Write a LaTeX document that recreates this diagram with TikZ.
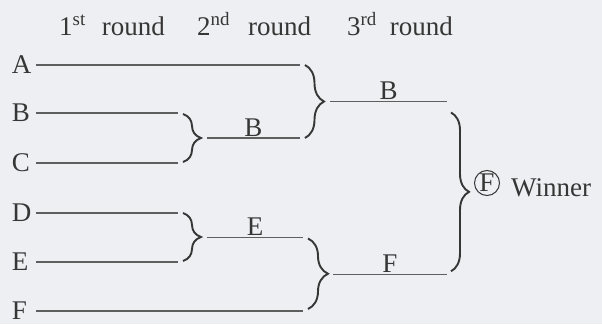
\documentclass[tikz,border=0pt]{standalone}
\usepackage{fontspec}
\setmainfont{Liberation Serif}
\usetikzlibrary{decorations.pathreplacing, positioning, calc}
\definecolor{paper}{HTML}{EEEFF2}
\definecolor{ink}{HTML}{363636}

\begin{document}
\begin{tikzpicture}[x=1pt, y=-1pt,
    every node/.style={text=ink, inner sep=1pt, font=\fontsize{27}{31}\selectfont},
    player/.style={inner sep=0pt, text width=20pt, align=left, text height=16pt, text depth=0pt},
    slot/.style={draw=ink!80, line width=1.3pt},
    join/.style={draw=ink, line width=1.9pt, decorate, decoration={brace, amplitude=#1}},
    join/.default=18pt]
    \fill[paper] (0,0) rectangle (602,324);
    \useasboundingbox (0,0) rectangle (602,324);

    % round titles
    \node[anchor=base west, inner sep=0pt] (r1) at (59,35) {1\textsuperscript{st}\hspace{16pt}round};
    \node[anchor=base west, inner sep=0pt] (r2) at (197,35) {2\textsuperscript{nd}\hspace{18pt}round};
    \node[anchor=base west, inner sep=0pt] (r3) at (347,35) {3\textsuperscript{rd}\hspace{13pt}round};

    % first round
    \node[player] (A) at (22,65) {A};
    \node[player] (B) at (22,113) {B};
    \node[player] (C) at (22,163) {C};
    \node[player] (D) at (22,213) {D};
    \node[player] (E) at (22,262) {E};
    \node[player] (F) at (22,311) {F};
    \coordinate (aR) at (300,65);
    \coordinate (bR) at (178,113);
    \coordinate (cR) at (178,163);
    \coordinate (dR) at (178,213);
    \coordinate (eR) at (178,262);
    \coordinate (fR) at (303,311);
    \foreach \p/\q in {A/aR, B/bR, C/cR, D/dR, E/eR, F/fR}
        \draw[slot, shorten <=4pt] (\p.east) -- (\q);

    % second round
    \draw[join] ($(bR)+(5,1)$) -- ($(cR)+(5,-1)$);
    \draw[slot] ($(bR)!.5!(cR)+(29,0)$) -- ++(93,0) coordinate (b2R)
        node[midway, above] (wB2) {B};
    \draw[join] ($(dR)+(5,0)$) -- ($(eR)+(5,-1)$);
    \draw[slot] ($(dR)!.5!(eR)+(29,0)$) -- ++(96,0) coordinate (e2R)
        node[midway, above] (wE2) {E};

    % third round
    \draw[join=19pt] ($(aR)+(5,0)$) -- ($(b2R)+(5,0)$);
    \draw[slot] ($(aR)!.5!(b2R)+(30,0)$) -- ++(117,0) coordinate (b3R)
        node[midway, above] (wB3) {B};
    \draw[join=20pt] ($(e2R)+(5,1)$) -- ($(fR)+(5,-2)$);
    \draw[slot] ($(e2R)!.5!(fR)+(30,0)$) -- ++(114,0) coordinate (f3R)
        node[midway, above] (wF3) {F};

    % final
    \draw[join=18pt] ($(b3R)+(4,11)$) -- ($(f3R)+(4,-3)$);
    \node[draw=ink, line width=1pt, circle, minimum size=25pt, inner sep=0pt] (champ) at (487,183) {F};
    \node[anchor=base west, inner sep=0pt] (winner) at (511,196) {Winner};
\end{tikzpicture}
\end{document}
